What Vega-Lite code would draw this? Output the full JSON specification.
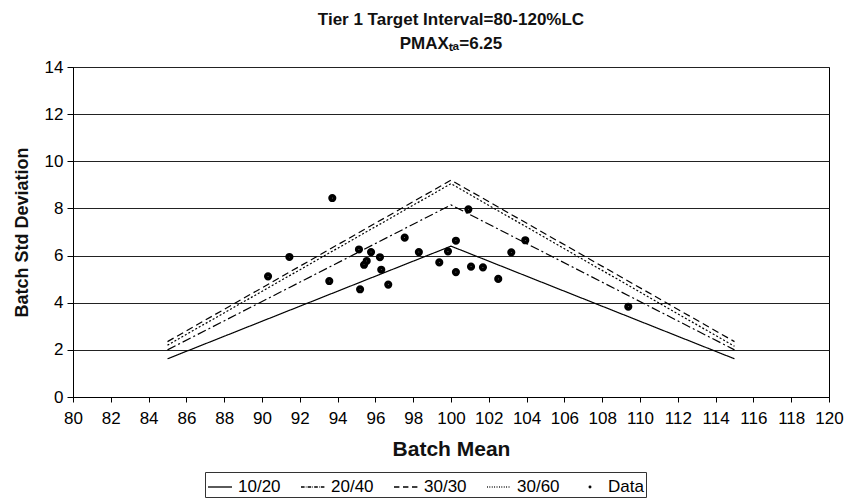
{
  "$schema": "https://vega.github.io/schema/vega-lite/v6.json",
  "width": 756,
  "height": 330,
  "autosize": {"type": "none"},
  "padding": {"left": 73, "top": 67, "right": 15, "bottom": 105},
  "background": "white",
  "title": {
    "text": ["Tier 1 Target Interval=80-120%LC", "PMAXₜₐ=6.25"],
    "font": "Liberation Sans",
    "fontSize": 17,
    "fontWeight": "bold",
    "color": "#111",
    "lineHeight": 24,
    "anchor": "middle",
    "offset": 5
  },
  "datasets": {
    "lines": [
      {"series": "10/20", "mean": 85, "sd": 1.62},
      {"series": "10/20", "mean": 100, "sd": 6.4},
      {"series": "10/20", "mean": 115, "sd": 1.62},
      {"series": "20/40", "mean": 85, "sd": 2.0},
      {"series": "20/40", "mean": 100, "sd": 8.15},
      {"series": "20/40", "mean": 115, "sd": 2.0},
      {"series": "30/30", "mean": 85, "sd": 2.35},
      {"series": "30/30", "mean": 100, "sd": 9.2},
      {"series": "30/30", "mean": 115, "sd": 2.35},
      {"series": "30/60", "mean": 85, "sd": 2.2},
      {"series": "30/60", "mean": 100, "sd": 9.05},
      {"series": "30/60", "mean": 115, "sd": 2.15}
    ],
    "points": [
      {"series": "Data", "mean": 93.72, "sd": 8.44},
      {"series": "Data", "mean": 91.45, "sd": 5.94},
      {"series": "Data", "mean": 90.32, "sd": 5.12},
      {"series": "Data", "mean": 93.56, "sd": 4.92},
      {"series": "Data", "mean": 95.13, "sd": 6.26},
      {"series": "Data", "mean": 95.77, "sd": 6.15},
      {"series": "Data", "mean": 95.54, "sd": 5.77},
      {"series": "Data", "mean": 95.4, "sd": 5.61},
      {"series": "Data", "mean": 96.24, "sd": 5.93},
      {"series": "Data", "mean": 96.31, "sd": 5.4},
      {"series": "Data", "mean": 95.19, "sd": 4.57},
      {"series": "Data", "mean": 96.68, "sd": 4.77},
      {"series": "Data", "mean": 97.55, "sd": 6.76},
      {"series": "Data", "mean": 98.3, "sd": 6.15},
      {"series": "Data", "mean": 99.38, "sd": 5.71},
      {"series": "Data", "mean": 99.84, "sd": 6.18},
      {"series": "Data", "mean": 100.26, "sd": 6.63},
      {"series": "Data", "mean": 100.26, "sd": 5.3},
      {"series": "Data", "mean": 100.92, "sd": 7.96},
      {"series": "Data", "mean": 101.06, "sd": 5.53},
      {"series": "Data", "mean": 101.69, "sd": 5.5},
      {"series": "Data", "mean": 102.5, "sd": 5.01},
      {"series": "Data", "mean": 103.19, "sd": 6.14},
      {"series": "Data", "mean": 103.93, "sd": 6.65},
      {"series": "Data", "mean": 109.38, "sd": 3.83}
    ]
  },
  "encoding": {
    "x": {
      "field": "mean",
      "type": "quantitative",
      "scale": {"domain": [80, 120], "nice": false, "zero": false},
      "axis": {
        "title": "Batch Mean",
        "values": [80, 82, 84, 86, 88, 90, 92, 94, 96, 98, 100, 102, 104, 106, 108, 110, 112, 114, 116, 118, 120],
        "grid": false,
        "tickSize": 5,
        "labelPadding": 8,
        "labelFlush": false,
        "labelOverlap": false,
        "titlePadding": 12
      }
    },
    "y": {
      "field": "sd",
      "type": "quantitative",
      "scale": {"domain": [0, 14], "nice": false},
      "axis": {
        "title": "Batch Std Deviation",
        "values": [0, 2, 4, 6, 8, 10, 12, 14],
        "grid": true,
        "tickSize": 6,
        "labelPadding": 4,
        "titlePadding": 13,
        "titleFontSize": 18
      }
    }
  },
  "layer": [
    {
      "data": {"name": "lines"},
      "mark": {"type": "line", "color": "black", "strokeWidth": 1.2},
      "encoding": {
        "strokeDash": {
          "field": "series",
          "type": "nominal",
          "scale": {
            "domain": ["10/20", "20/40", "30/30", "30/60"],
            "range": [[1, 0], [9, 3, 2, 3], [7, 4], [2, 2]]
          },
          "legend": null
        },
        "detail": {"field": "series"}
      }
    },
    {
      "data": {"name": "points"},
      "mark": {"type": "point", "filled": false, "color": "black", "opacity": 1, "size": 2844, "strokeWidth": 4.4},
      "encoding": {
        "shape": {
          "field": "series",
          "type": "nominal",
          "scale": {
            "domain": ["10/20", "20/40", "30/30", "30/60", "Data"],
            "range": [
              "M-1,0L1,0",
              "M-1,0L-0.7,0M-0.6,0L-0.55,0M-0.45,0L-0.15,0M-0.05,0L0,0M0.1,0L0.4,0M0.5,0L0.55,0M0.65,0L0.95,0",
              "M-1,0L-0.55,0M-0.25,0L0.2,0M0.5,0L0.95,0",
              "M-1,0L-0.93,0M-0.8,0L-0.73,0M-0.6,0L-0.53,0M-0.4,0L-0.33,0M-0.2,0L-0.13,0M0,0L0.07,0M0.2,0L0.27,0M0.4,0L0.47,0M0.6,0L0.67,0M0.8,0L0.87,0",
              "M-0.07,0A0.07,0.07,0,1,0,0.07,0A0.07,0.07,0,1,0,-0.07,0Z"
            ]
          },
          "legend": {
            "title": null,
            "orient": "none",
            "legendX": 132,
            "legendY": 405,
            "direction": "horizontal",
            "columns": 5,
            "symbolSize": 576,
            "symbolStrokeColor": "black",
            "symbolStrokeWidth": 1.3,
            "symbolOpacity": 1,
            "labelFontSize": 17,
            "labelFont": "Liberation Sans",
            "labelColor": "black",
            "labelOffset": 5,
            "columnPadding": 17,
            "strokeColor": "#333",
            "padding": 2
          }
        }
      }
    }
  ],
  "config": {
    "view": {"stroke": "black", "strokeWidth": 1},
    "axis": {
      "labelFont": "Liberation Sans",
      "labelFontSize": 17,
      "labelColor": "black",
      "titleFont": "Liberation Sans",
      "titleFontSize": 21,
      "titleFontWeight": "bold",
      "titleColor": "#111",
      "domainColor": "black",
      "tickColor": "black",
      "gridColor": "#222",
      "gridWidth": 1
    }
  }
}
